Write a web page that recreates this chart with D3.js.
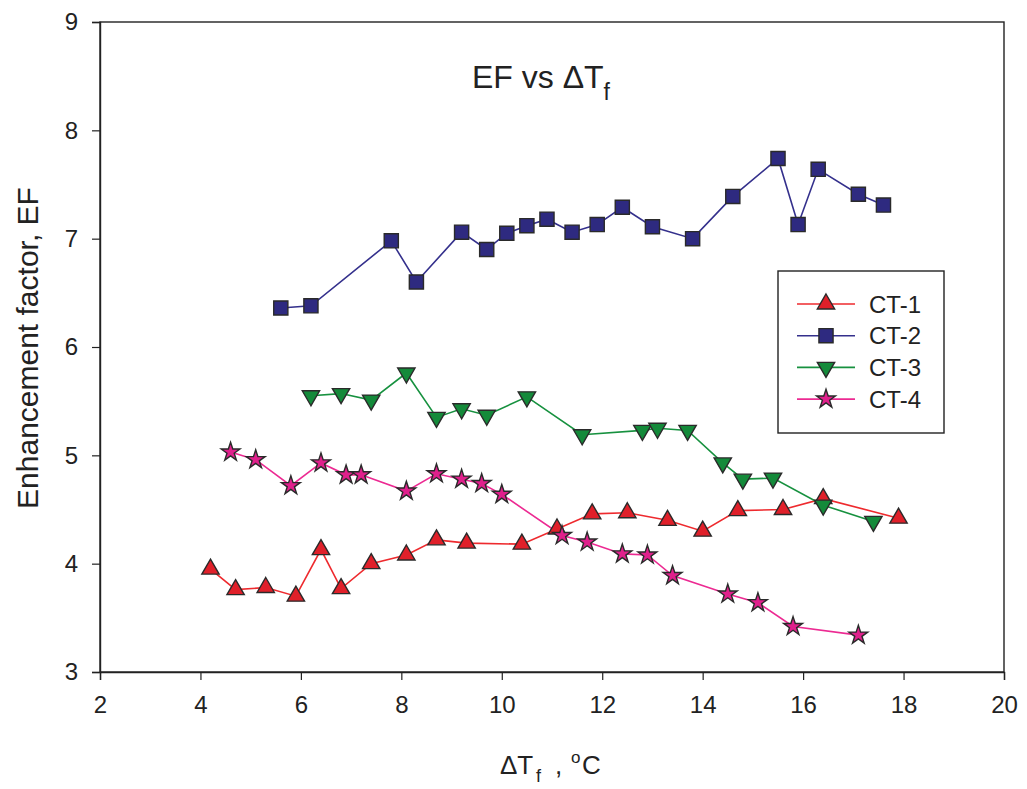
<!DOCTYPE html>
<html>
<head>
<meta charset="utf-8">
<script src="https://cdn.jsdelivr.net/npm/d3@7"></script>
<style>
  html, body { margin: 0; padding: 0; background: #fff; }
  svg { display: block; font-family: "Liberation Sans", Arial, sans-serif; }
</style>
</head>
<body>
<svg id="chart" width="1027" height="789"></svg>
<script>
// Temperature difference ΔTf (°C) and enhancement factor EF for each test
const ct1X = [4.2, 4.7, 5.3, 5.9, 6.4, 6.8, 7.4, 8.1, 8.7, 9.3, 10.4, 11.1, 11.8, 12.5, 13.3, 14.0, 14.7, 15.6, 16.4, 17.9];
const ct1Y = [3.95, 3.76, 3.78, 3.70, 4.13, 3.77, 4.00, 4.08, 4.22, 4.19, 4.18, 4.32, 4.46, 4.47, 4.40, 4.30, 4.49, 4.50, 4.60, 4.42];

const ct2X = [5.6, 6.2, 7.8, 8.3, 9.2, 9.7, 10.1, 10.5, 10.9, 11.4, 11.9, 12.4, 13.0, 13.8, 14.6, 15.5, 15.9, 16.3, 17.1, 17.6];
const ct2Y = [6.36, 6.38, 6.98, 6.60, 7.06, 6.90, 7.05, 7.12, 7.18, 7.06, 7.13, 7.29, 7.11, 7.00, 7.39, 7.74, 7.13, 7.64, 7.41, 7.31];

const ct3X = [6.2, 6.8, 7.4, 8.1, 8.7, 9.2, 9.7, 10.5, 11.6, 12.8, 13.1, 13.7, 14.4, 14.8, 15.4, 16.4, 17.4];
const ct3Y = [5.55, 5.57, 5.51, 5.76, 5.35, 5.43, 5.37, 5.54, 5.19, 5.23, 5.25, 5.23, 4.93, 4.78, 4.79, 4.54, 4.39];

const ct4X = [4.6, 5.1, 5.8, 6.4, 6.9, 7.2, 8.1, 8.7, 9.2, 9.6, 10.0, 11.2, 11.7, 12.4, 12.9, 13.4, 14.5, 15.1, 15.8, 17.1];
const ct4Y = [5.03, 4.96, 4.72, 4.93, 4.82, 4.82, 4.67, 4.83, 4.78, 4.74, 4.64, 4.26, 4.20, 4.09, 4.08, 3.89, 3.72, 3.64, 3.42, 3.34];

const seriesNames = ["CT-1", "CT-2", "CT-3", "CT-4"];
const xTicks = [2, 4, 6, 8, 10, 12, 14, 16, 18, 20];
const yTicks = [3, 4, 5, 6, 7, 8, 9];

const series = [
  { name: seriesNames[0], xs: ct1X, ys: ct1Y, line: "#ee2a2e", fill: "#e0202a", shape: "up" },
  { name: seriesNames[1], xs: ct2X, ys: ct2Y, line: "#34308c", fill: "#2e2a80", shape: "square" },
  { name: seriesNames[2], xs: ct3X, ys: ct3Y, line: "#17913f", fill: "#148a3a", shape: "down" },
  { name: seriesNames[3], xs: ct4X, ys: ct4Y, line: "#ec2a92", fill: "#e0208c", shape: "star" }
];

const W = 1027, H = 789;
const margin = { left: 100, right: 23, top: 22, bottom: 117 };
const svg = d3.select("#chart");

const x = d3.scaleLinear().domain([2, 20]).range([margin.left, W - margin.right]);
const y = d3.scaleLinear().domain([3, 9]).range([H - margin.bottom, margin.top]);

// Frame around the plotting area
svg.append("rect")
  .attr("x", x(2)).attr("y", y(9))
  .attr("width", x(20) - x(2)).attr("height", y(3) - y(9))
  .attr("fill", "none").attr("stroke", "#222").attr("stroke-width", 1.4);

// Axes
const xAxis = svg.append("g")
  .attr("transform", `translate(0,${y(3)})`)
  .call(d3.axisBottom(x).tickValues(xTicks).tickSize(8).tickPadding(16).tickFormat(d3.format("d")));
const yAxis = svg.append("g")
  .attr("transform", `translate(${x(2)},0)`)
  .call(d3.axisLeft(y).tickValues(yTicks).tickSize(8).tickPadding(14).tickFormat(d3.format("d")));

[xAxis, yAxis].forEach(g => {
  g.select(".domain").attr("stroke", "#222").attr("stroke-width", 1.4);
  g.selectAll(".tick line").attr("stroke", "#222").attr("stroke-width", 1.2);
  g.selectAll(".tick text").attr("fill", "#222").style("font-size", "24px");
});

// Marker shapes
const symbolFor = shape => {
  if (shape === "square") return d3.symbol().type(d3.symbolSquare).size(200)();
  if (shape === "star") return d3.symbol().type(d3.symbolStar).size(110)();
  return d3.symbol().type(d3.symbolTriangle).size(130)();
};
const rotFor = shape => shape === "down" ? " rotate(180)" : "";

const line = d3.line().x(d => x(d[0])).y(d => y(d[1]));

series.forEach(s => {
  const pts = s.xs.map((v, i) => [v, s.ys[i]]);
  svg.append("path")
    .datum(pts)
    .attr("d", line)
    .attr("fill", "none")
    .attr("stroke", s.line)
    .attr("stroke-width", 1.6);
});

series.forEach(s => {
  const pts = s.xs.map((v, i) => [v, s.ys[i]]);
  svg.append("g").selectAll("path")
    .data(pts)
    .join("path")
    .attr("d", symbolFor(s.shape))
    .attr("transform", d => `translate(${x(d[0])},${y(d[1])})${rotFor(s.shape)}`)
    .attr("fill", s.fill)
    .attr("stroke", "#2a2a2a")
    .attr("stroke-width", 1.4);
});

// Legend
const lg = svg.append("g");
lg.append("rect")
  .attr("x", 778).attr("y", 271).attr("width", 166).attr("height", 162)
  .attr("fill", "#fff").attr("stroke", "#222").attr("stroke-width", 1.4);
series.forEach((s, i) => {
  const cy = 304 + i * 31.7;
  lg.append("line")
    .attr("x1", 797).attr("x2", 855).attr("y1", cy).attr("y2", cy)
    .attr("stroke", s.line).attr("stroke-width", 1.6);
  lg.append("path")
    .attr("d", symbolFor(s.shape))
    .attr("transform", `translate(826,${cy})${rotFor(s.shape)}`)
    .attr("fill", s.fill).attr("stroke", "#2a2a2a").attr("stroke-width", 1.4);
  lg.append("text")
    .attr("x", 869).attr("y", cy).attr("dy", "0.36em")
    .style("font-size", "24px").attr("fill", "#222")
    .text(s.name);
});

// Title
const title = svg.append("text")
  .attr("x", 472).attr("y", 88)
  .style("font-size", "32px").attr("fill", "#222");
title.append("tspan").text("EF vs ΔT");
title.append("tspan").attr("dy", 12).style("font-size", "23px").text("f");

// X axis label
const xl = svg.append("text")
  .attr("y", 774)
  .style("font-size", "26px").attr("fill", "#222");
xl.append("tspan").attr("x", 500).text("ΔT");
xl.append("tspan").attr("x", 536).attr("dy", 8).style("font-size", "18px").text("f");
xl.append("tspan").attr("x", 555).attr("dy", -8).text(",");
xl.append("tspan").attr("x", 571).attr("dy", -11).style("font-size", "17px").text("o");
xl.append("tspan").attr("x", 582).attr("dy", 11).text("C");

// Y axis label
svg.append("text")
  .attr("transform", `translate(38,348) rotate(-90)`)
  .attr("text-anchor", "middle")
  .style("font-size", "30px").attr("fill", "#222")
  .text("Enhancement factor, EF");
</script>
</body>
</html>
